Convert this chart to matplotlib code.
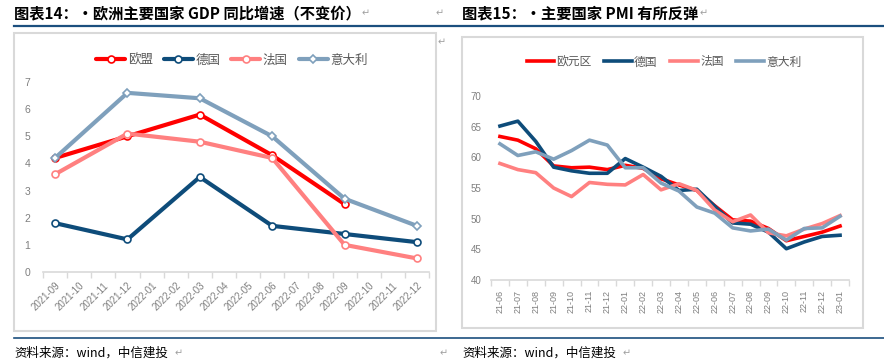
import matplotlib
matplotlib.use("Agg")
import matplotlib.pyplot as plt
from matplotlib.lines import Line2D
from matplotlib.patches import Rectangle

plt.rcParams['font.family'] = ['Noto Sans CJK SC', 'DejaVu Sans']

W, H = 884, 363

# 图表14：欧洲主要国家 GDP 同比增速（季度数据，按月份类目轴摆放）
gdp_months = ["2021-09", "2021-10", "2021-11", "2021-12", "2022-01", "2022-02",
              "2022-03", "2022-04", "2022-05", "2022-06", "2022-07", "2022-08",
              "2022-09", "2022-10", "2022-11", "2022-12"]
gdp_quarters = ["2021-09", "2021-12", "2022-03", "2022-06", "2022-09", "2022-12"]
gdp_eu = [4.2, 5.0, 5.8, 4.3, 2.5, None]
gdp_de = [1.8, 1.2, 3.5, 1.7, 1.4, 1.1]
gdp_fr = [3.6, 5.1, 4.8, 4.2, 1.0, 0.5]
gdp_it = [4.2, 6.6, 6.4, 5.0, 2.7, 1.7]

# 图表15：主要国家制造业 PMI
pmi_months = ["21-06", "21-07", "21-08", "21-09", "21-10", "21-11", "21-12",
              "22-01", "22-02", "22-03", "22-04", "22-05", "22-06", "22-07",
              "22-08", "22-09", "22-10", "22-11", "22-12", "23-01"]
pmi_ez = [63.4, 62.8, 61.4, 58.6, 58.3, 58.4, 58.0, 58.7, 58.2, 56.5,
          55.5, 54.6, 52.1, 49.8, 49.6, 48.4, 46.4, 47.1, 47.8, 48.8]
pmi_de = [65.1, 65.9, 62.6, 58.4, 57.8, 57.4, 57.4, 59.8, 58.4, 56.9,
          54.6, 54.8, 52.0, 49.3, 49.1, 47.8, 45.1, 46.2, 47.1, 47.3]
pmi_fr = [59.0, 58.0, 57.5, 55.0, 53.6, 55.9, 55.6, 55.5, 57.2, 54.7,
          55.7, 54.6, 51.4, 49.5, 50.6, 47.7, 47.2, 48.3, 49.2, 50.5]
pmi_it = [62.2, 60.3, 60.9, 59.7, 61.1, 62.8, 62.0, 58.3, 58.3, 55.8,
          54.5, 51.9, 50.9, 48.5, 48.0, 48.3, 46.5, 48.4, 48.5, 50.4]

RED = "#FF0000"
NAVY = "#0E4C7A"
PINK = "#FF8080"
GREYBLUE = "#7FA0BC"
TXT = "#7F7F7F"
BORDER = "#D9D9D9"
RULE = "#1B4F7E"
MARK = "#A0A0A0"


def fx(x):
    return x / W


def fy(y):
    return 1 - y / H


def rect(x0, y0, x1, y1):
    return [fx(x0), fy(y1), (x1 - x0) / W, (y1 - y0) / H]


def para_mark(x, y):
    fig.text(fx(x), fy(y), "↵", fontsize=7, color=MARK, va="center",
             family=["DejaVu Sans"])


fig = plt.figure(figsize=(W / 100, H / 100), dpi=100)

# 版面：标题横线、图框
fig.add_artist(Line2D([fx(14), fx(884)], [fy(25.5), fy(25.5)], color=RULE, lw=1.6))
fig.add_artist(Line2D([fx(14), fx(884)], [fy(338), fy(338)], color=RULE, lw=1.2))
fig.add_artist(Rectangle((fx(14), fy(331)), (436 - 14) / W, (331 - 33) / H,
                         fill=False, ec=BORDER, lw=1.5))
fig.add_artist(Rectangle((fx(462), fy(328)), (863 - 462) / W, (328 - 37) / H,
                         fill=False, ec=BORDER, lw=1.5))

fig.text(fx(14), fy(13), "图表14：·欧洲主要国家 GDP 同比增速（不变价）", fontsize=11,
         fontweight="bold", va="center", ha="left")
fig.text(fx(462), fy(13), "图表15：·主要国家 PMI 有所反弹", fontsize=11,
         fontweight="bold", va="center", ha="left")
para_mark(362, 13)
para_mark(436, 13)
para_mark(700, 13)
para_mark(438, 42)

for x0 in (14, 462):
    fig.text(fx(x0), fy(353), "资料来源：wind，中信建投", fontsize=9, style="italic",
             va="center", ha="left")
para_mark(175, 353)
para_mark(623, 353)
para_mark(440, 353)


def style_axes(ax, n, ymin, ymax, ystep, yfs, ypad):
    ax.set_xlim(-0.5, n - 0.5)
    ax.set_ylim(ymin, ymax)
    for s in ("left", "right", "top"):
        ax.spines[s].set_visible(False)
    ax.spines["bottom"].set_color(BORDER)
    ax.spines["bottom"].set_linewidth(1.2)
    ax.set_yticks(range(ymin, ymax + 1, ystep))
    ax.tick_params(axis="y", length=0, labelsize=yfs, labelcolor=TXT, pad=ypad)
    ax.set_xticks(range(n))
    ax.set_xticks([i - 0.5 for i in range(n + 1)], minor=True)
    ax.tick_params(axis="x", which="major", length=0, labelcolor=TXT)
    ax.tick_params(axis="x", which="minor", length=4, width=1, color=BORDER)
    ax.patch.set_alpha(0)
    for lab in ax.get_yticklabels():
        lab.set_family(["Liberation Sans"])


# ---- 左图 GDP ----
ax1 = fig.add_axes(rect(43, 82, 429, 272))
style_axes(ax1, len(gdp_months), 0, 7, 1, 7.5, 9)
qx = [gdp_months.index(q) for q in gdp_quarters]
series1 = [("欧盟", gdp_eu, RED, "o"), ("德国", gdp_de, NAVY, "o"),
           ("法国", gdp_fr, PINK, "o"), ("意大利", gdp_it, GREYBLUE, "D")]
for name, vals, col, mk in series1:
    xs = [x for x, v in zip(qx, vals) if v is not None]
    ys = [v for v in vals if v is not None]
    ax1.plot(xs, ys, color=col, lw=3, marker=mk, ms=5 if mk == "o" else 4.5,
             mfc="white", mec=col, mew=1.2, label=name, solid_capstyle="round")
ax1.set_xticklabels(gdp_months, rotation=45, ha="right", rotation_mode="anchor",
                    fontsize=7, family=["Liberation Sans"])
ax1.tick_params(axis="x", which="major", pad=6)
ax1.legend(loc="center", bbox_to_anchor=(fx(232), fy(60)),
           bbox_transform=fig.transFigure, ncol=4, frameon=False,
           fontsize=9, handlelength=2.3, handletextpad=0.2,
           columnspacing=0.9, labelcolor="#595959")

# ---- 右图 PMI ----
ax2 = fig.add_axes(rect(491, 96, 849, 280))
style_axes(ax2, len(pmi_months), 40, 70, 5, 7, 7)
series2 = [("欧元区", pmi_ez, RED), ("德国", pmi_de, NAVY),
           ("法国", pmi_fr, PINK), ("意大利", pmi_it, GREYBLUE)]
for name, vals, col in series2:
    ax2.plot(range(len(vals)), vals, color=col, lw=2.6, label=name)
ax2.set_xticklabels(pmi_months, rotation=90, fontsize=6.5,
                    family=["Liberation Sans"])
ax2.tick_params(axis="x", which="major", pad=7)
ax2.legend(loc="center", bbox_to_anchor=(fx(664), fy(62)),
           bbox_transform=fig.transFigure, ncol=4, frameon=False,
           fontsize=8.5, handlelength=2.3, handletextpad=0.2,
           columnspacing=1.1, labelcolor="#595959")

fig.savefig("out.png", dpi=100)
